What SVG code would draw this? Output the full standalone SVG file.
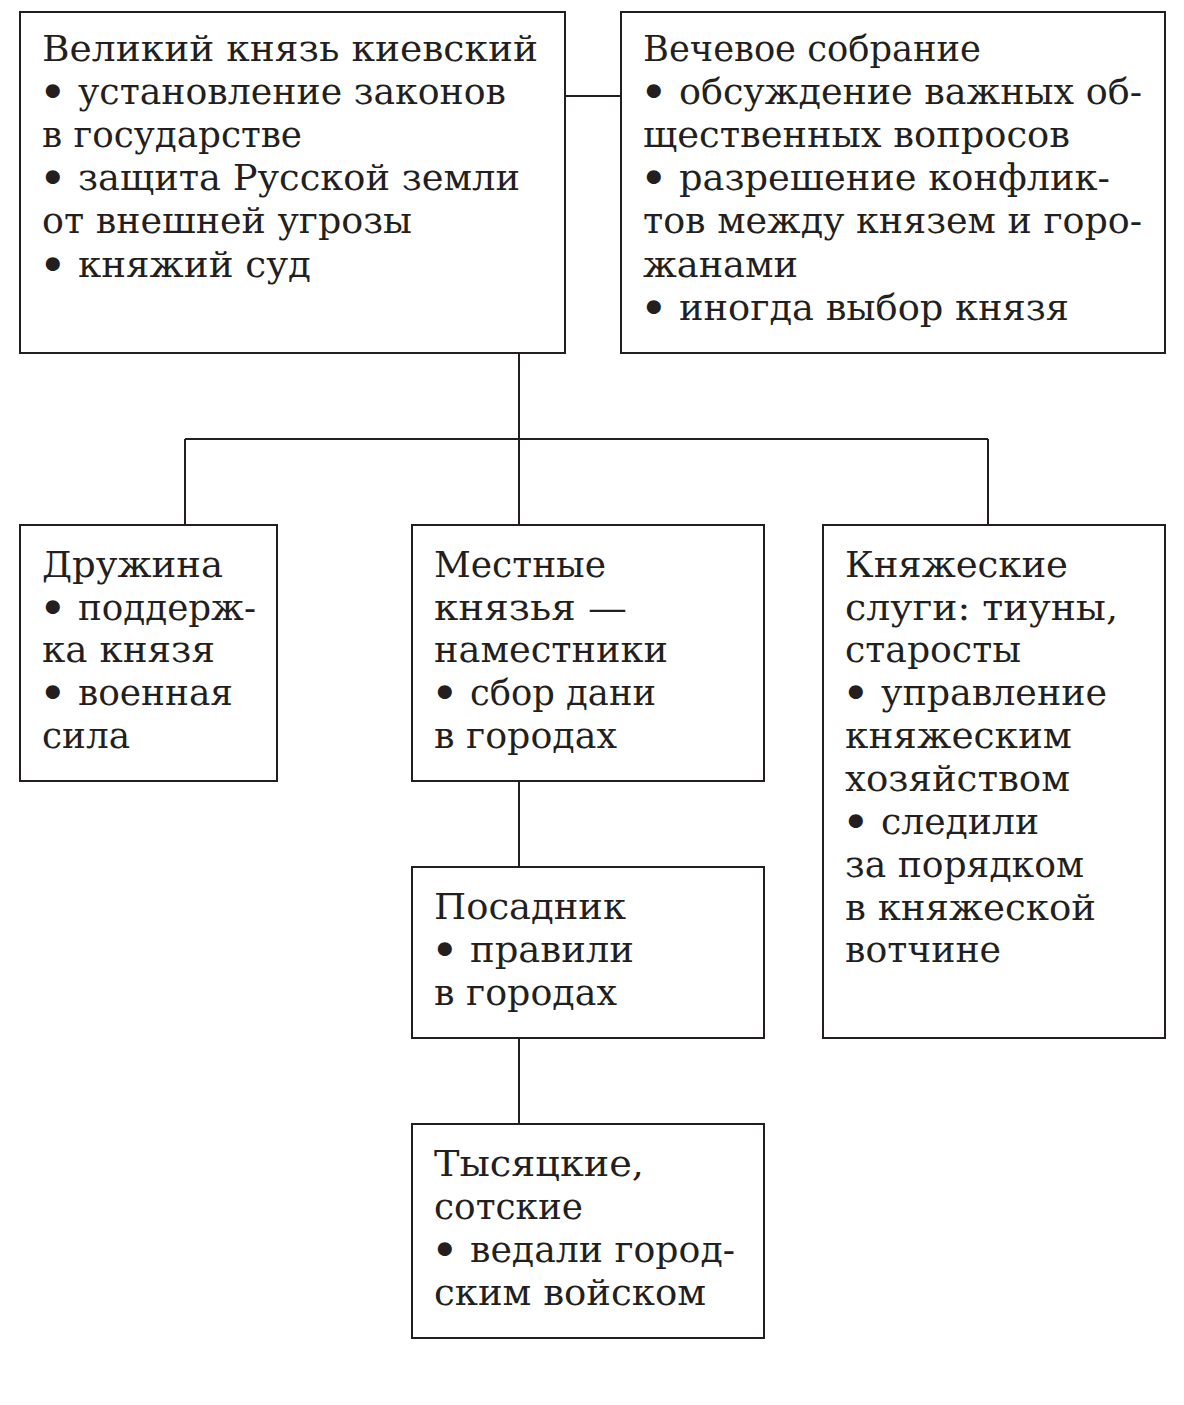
<svg xmlns="http://www.w3.org/2000/svg" width="1184" height="1405" viewBox="0 0 1184 1405">
<style>
.box{fill:#fff;stroke:#231f20;stroke-width:2}
.ln{fill:none;stroke:#231f20;stroke-width:2}
text{font-family:"DejaVu Serif","Liberation Serif",serif;font-size:35px;fill:#231f20}
.b{font-size:40px;font-weight:bold}
</style>
<rect width="1184" height="1405" fill="#fff"/>
<g id="connectors">
<path class="ln" d="M565 96H621"/>
<path class="ln" d="M519 353V525"/>
<path class="ln" d="M185 439H988"/>
<path class="ln" d="M185 439V525"/>
<path class="ln" d="M988 439V525"/>
<path class="ln" d="M519 781V867"/>
<path class="ln" d="M519 1038V1124"/>
</g>
<g id="velikiy-knyaz">
<rect class="box" x="20" y="12" width="545" height="341"/>
<text><tspan x="42" y="61" textLength="496" lengthAdjust="spacingAndGlyphs">Великий князь киевский</tspan>
<tspan class="b" x="40" y="106">•</tspan><tspan x="78" y="104" textLength="428" lengthAdjust="spacingAndGlyphs">установление законов</tspan>
<tspan x="42" y="147" textLength="260" lengthAdjust="spacingAndGlyphs">в государстве</tspan>
<tspan class="b" x="40" y="192">•</tspan><tspan x="78" y="190" textLength="442" lengthAdjust="spacingAndGlyphs">защита Русской земли</tspan>
<tspan x="42" y="233" textLength="370" lengthAdjust="spacingAndGlyphs">от внешней угрозы</tspan>
<tspan class="b" x="40" y="279">•</tspan><tspan x="78" y="277" textLength="233" lengthAdjust="spacingAndGlyphs">княжий суд</tspan></text>
</g>
<g id="veche">
<rect class="box" x="621" y="12" width="544" height="341"/>
<text><tspan x="643" y="61" textLength="338" lengthAdjust="spacingAndGlyphs">Вечевое собрание</tspan>
<tspan class="b" x="641" y="106">•</tspan><tspan x="679" y="104" textLength="463" lengthAdjust="spacingAndGlyphs">обсуждение важных об-</tspan>
<tspan x="643" y="147" textLength="427" lengthAdjust="spacingAndGlyphs">щественных вопросов</tspan>
<tspan class="b" x="641" y="192">•</tspan><tspan x="679" y="190" textLength="431" lengthAdjust="spacingAndGlyphs">разрешение конфлик-</tspan>
<tspan x="643" y="233" textLength="499" lengthAdjust="spacingAndGlyphs">тов между князем и горо-</tspan>
<tspan x="643" y="277" textLength="155" lengthAdjust="spacingAndGlyphs">жанами</tspan>
<tspan class="b" x="641" y="322">•</tspan><tspan x="679" y="320" textLength="390" lengthAdjust="spacingAndGlyphs">иногда выбор князя</tspan></text>
</g>
<g id="druzhina">
<rect class="box" x="20" y="525" width="257" height="256"/>
<text><tspan x="42" y="577" textLength="181" lengthAdjust="spacingAndGlyphs">Дружина</tspan>
<tspan class="b" x="40" y="622">•</tspan><tspan x="78" y="620" textLength="178" lengthAdjust="spacingAndGlyphs">поддерж-</tspan>
<tspan x="42" y="662" textLength="173" lengthAdjust="spacingAndGlyphs">ка князя</tspan>
<tspan class="b" x="40" y="707">•</tspan><tspan x="78" y="705" textLength="155" lengthAdjust="spacingAndGlyphs">военная</tspan>
<tspan x="42" y="748" textLength="88" lengthAdjust="spacingAndGlyphs">сила</tspan></text>
</g>
<g id="mestnye">
<rect class="box" x="412" y="525" width="352" height="256"/>
<text><tspan x="434" y="577" textLength="172" lengthAdjust="spacingAndGlyphs">Местные</tspan>
<tspan x="434" y="620" textLength="193" lengthAdjust="spacingAndGlyphs">князья —</tspan>
<tspan x="434" y="662" textLength="234" lengthAdjust="spacingAndGlyphs">наместники</tspan>
<tspan class="b" x="432" y="707">•</tspan><tspan x="470" y="705" textLength="186" lengthAdjust="spacingAndGlyphs">сбор дани</tspan>
<tspan x="434" y="748" textLength="183" lengthAdjust="spacingAndGlyphs">в городах</tspan></text>
</g>
<g id="knyazheskie">
<rect class="box" x="823" y="525" width="342" height="513"/>
<text><tspan x="845" y="577" textLength="223" lengthAdjust="spacingAndGlyphs">Княжеские</tspan>
<tspan x="845" y="620" textLength="273" lengthAdjust="spacingAndGlyphs">слуги: тиуны,</tspan>
<tspan x="845" y="662" textLength="176" lengthAdjust="spacingAndGlyphs">старосты</tspan>
<tspan class="b" x="843" y="707">•</tspan><tspan x="881" y="705" textLength="226" lengthAdjust="spacingAndGlyphs">управление</tspan>
<tspan x="845" y="748" textLength="227" lengthAdjust="spacingAndGlyphs">княжеским</tspan>
<tspan x="845" y="791" textLength="225" lengthAdjust="spacingAndGlyphs">хозяйством</tspan>
<tspan class="b" x="843" y="836">•</tspan><tspan x="881" y="834" textLength="158" lengthAdjust="spacingAndGlyphs">следили</tspan>
<tspan x="845" y="877" textLength="239" lengthAdjust="spacingAndGlyphs">за порядком</tspan>
<tspan x="845" y="920" textLength="251" lengthAdjust="spacingAndGlyphs">в княжеской</tspan>
<tspan x="845" y="962" textLength="156" lengthAdjust="spacingAndGlyphs">вотчине</tspan></text>
</g>
<g id="posadnik">
<rect class="box" x="412" y="867" width="352" height="171"/>
<text><tspan x="434" y="919" textLength="192" lengthAdjust="spacingAndGlyphs">Посадник</tspan>
<tspan class="b" x="432" y="964">•</tspan><tspan x="470" y="962" textLength="164" lengthAdjust="spacingAndGlyphs">правили</tspan>
<tspan x="434" y="1005" textLength="183" lengthAdjust="spacingAndGlyphs">в городах</tspan></text>
</g>
<g id="tysyatskie">
<rect class="box" x="412" y="1124" width="352" height="214"/>
<text><tspan x="434" y="1176" textLength="210" lengthAdjust="spacingAndGlyphs">Тысяцкие,</tspan>
<tspan x="434" y="1219" textLength="149" lengthAdjust="spacingAndGlyphs">сотские</tspan>
<tspan class="b" x="432" y="1264">•</tspan><tspan x="470" y="1262" textLength="265" lengthAdjust="spacingAndGlyphs">ведали город-</tspan>
<tspan x="434" y="1305" textLength="272" lengthAdjust="spacingAndGlyphs">ским войском</tspan></text>
</g>
</svg>
